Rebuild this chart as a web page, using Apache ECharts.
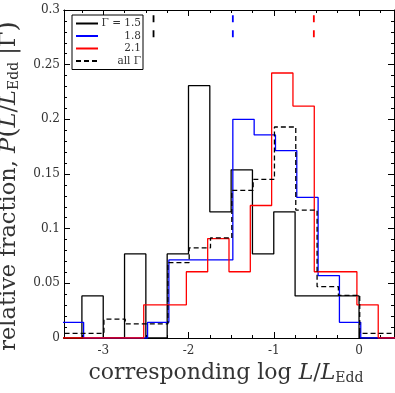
<!DOCTYPE html>
<html>
<head>
<meta charset="utf-8">
<script src="https://cdn.jsdelivr.net/npm/echarts@6/dist/echarts.min.js"></script>
<style>
html, body { margin: 0; padding: 0; background: #fff; }
#chart { width: 395px; height: 393px; }
</style>
</head>
<body>
<div id="chart"></div>
<script>
// left edges of the 0.25-wide bins
var binLeft = [-3.5, -3.25, -3.0, -2.75, -2.5, -2.25, -2.0, -1.75, -1.5, -1.25, -1.0, -0.75, -0.5, -0.25, 0.0, 0.25];
var binWidth = 0.25;

var frac15  = [0, 0.0385, 0, 0.0769, 0, 0.0769, 0.2308, 0.1154, 0.1538, 0.0769, 0.1154, 0.0385, 0.0385, 0.0385, 0, 0];
var frac18  = [0.0143, 0, 0, 0, 0.0143, 0.0714, 0.0714, 0.0714, 0.2, 0.1857, 0.1714, 0.1286, 0.0571, 0.0143, 0, 0];
var frac21  = [0, 0, 0, 0, 0.0303, 0.0303, 0.0606, 0.0909, 0.0606, 0.1212, 0.2424, 0.2121, 0.0606, 0.0606, 0.0303, 0];
var fracAll = [0.0043, 0.0043, 0.0172, 0.0129, 0.0129, 0.069, 0.0825, 0.0915, 0.135, 0.145, 0.193, 0.117, 0.047, 0.039, 0.0043, 0.0043];

var medians = [-2.41, -1.48, -0.53];

var xMajor = [-3, -2, -1, 0];
var xMinor = [-3.25, -2.75, -2.5, -2.25, -1.75, -1.5, -1.25, -0.75, -0.5, -0.25, 0.25];

var serif = 'DejaVu Serif';

// histogram outline as step points
function steps(vals, shift) {
  var pts = [[binLeft[0] + shift, 0]];
  for (var i = 0; i < vals.length; i++) {
    pts.push([binLeft[i] + shift, vals[i]]);
  }
  pts.push([binLeft[binLeft.length - 1] + binWidth + shift, 0]);
  return pts;
}

function hist(name, vals, shift, color, type) {
  return {
    name: name,
    type: 'line',
    step: 'end',
    symbol: 'none',
    data: steps(vals, shift),
    lineStyle: { color: color, width: 1.3, type: type || 'solid' },
    itemStyle: { color: color },
    z: 3
  };
}

function medianLine(m, color) {
  return {
    type: 'line',
    symbol: 'none',
    data: [[m, 0.275], [m, 0.3]],
    lineStyle: { color: color, width: 1.8, type: [7, 8] },
    silent: true,
    z: 4
  };
}

var axisLine = { show: true, onZero: false, lineStyle: { color: '#000', width: 1 } };

function xAx(pos, ticks, len, labels) {
  return {
    type: 'value', position: pos, min: -3.46, max: 0.41,
    axisLine: axisLine,
    axisTick: { show: true, inside: true, length: len, customValues: ticks, lineStyle: { color: '#000', width: 1 } },
    axisLabel: { show: labels, customValues: ticks, fontFamily: serif, fontSize: 12, color: '#333', margin: 7 },
    splitLine: { show: false }
  };
}

function yAx(pos, labels) {
  return {
    type: 'value', position: pos, min: 0, max: 0.3, interval: 0.05,
    axisLine: axisLine,
    axisTick: { show: true, inside: true, length: 6, lineStyle: { color: '#000', width: 1 } },
    minorTick: { show: true, splitNumber: 5, length: 3, lineStyle: { color: '#000', width: 1 } },
    axisLabel: { show: labels, fontFamily: serif, fontSize: 12, color: '#333', margin: 4 },
    splitLine: { show: false }
  };
}

function nameRich(size, gap) {
  return {
    t: { fontFamily: serif, fontSize: size, color: '#333' },
    i: { fontFamily: serif, fontSize: size, fontStyle: 'italic', color: '#333' },
    p: { fontFamily: serif, fontSize: size + 4, color: '#333' },
    s: { fontFamily: serif, fontSize: 14, color: '#333', padding: [10, 0, 0, 0] },
    g: { width: gap }
  };
}

var myChart = echarts.init(document.getElementById('chart'));
var option = {
  animation: false,
  grid: { left: 64, top: 10, width: 330, height: 328, containLabel: false, outerBoundsMode: 'none' },
  legend: {
    data: ['Γ = 1.5', '1.8', '2.1', 'all Γ'],
    orient: 'vertical',
    left: 72, top: 15,
    padding: [3, 2, 3, 3],
    itemGap: 1.5,
    itemWidth: 22, itemHeight: 11,
    borderColor: '#000', borderWidth: 1, borderRadius: 0,
    backgroundColor: '#fff',
    itemStyle: { opacity: 0, borderWidth: 0 },
    formatter: function (n) { return '{a|' + n + '}'; },
    textStyle: {
      fontFamily: serif, fontSize: 10.5, color: '#333',
      rich: { a: { width: 38, align: 'right', fontFamily: serif, fontSize: 10.5, lineHeight: 14.5, color: '#333' } }
    }
  },
  xAxis: [
    Object.assign(xAx('bottom', xMajor, 6, true), {
      name: '{t|corresponding log }{i|L}{t|/}{i|L}{s|Edd}{g| }',
      nameLocation: 'middle', nameGap: 22,
      nameTextStyle: { rich: nameRich(22, 6) }
    }),
    xAx('bottom', xMinor, 3, false),
    xAx('top', xMajor, 6, false),
    xAx('top', xMinor, 3, false)
  ],
  yAxis: [
    Object.assign(yAx('left', true), {
      name: '{t|relative fraction, }{i|P}{p|(}{i|L}{t|/}{i|L}{s|Edd}{t| |Γ}{p|)}{g| }',
      nameLocation: 'middle', nameGap: 34, nameRotate: 90,
      nameTextStyle: { rich: nameRich(22.5, 24) }
    }),
    yAx('right', false)
  ],
  series: [
    hist('Γ = 1.5', frac15, 0, '#000'),
    hist('1.8', frac18, 0.02, '#0000ff'),
    hist('2.1', frac21, -0.025, '#ff0000'),
    hist('all Γ', fracAll, 0.008, '#000', [5, 3]),
    medianLine(medians[0], '#000'),
    medianLine(medians[1], '#0000ff'),
    medianLine(medians[2], '#ff0000')
  ]
};
myChart.setOption(option);
</script>
</body>
</html>
